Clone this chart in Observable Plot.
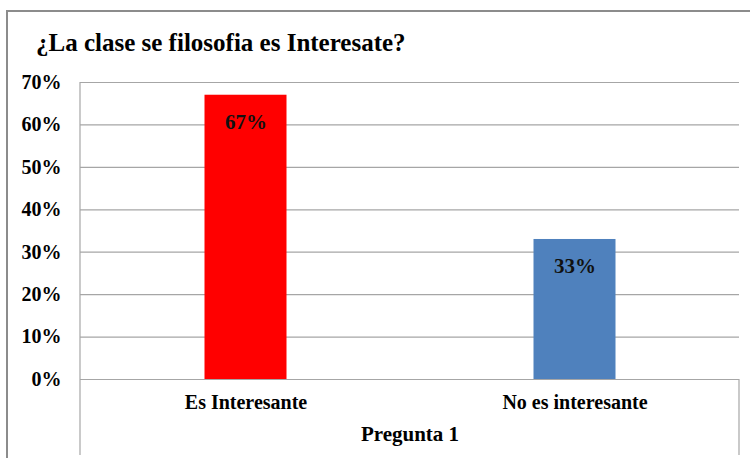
<!DOCTYPE html>
<html>
<head>
<meta charset="utf-8">
<script src="https://cdn.jsdelivr.net/npm/d3@7"></script>
<script src="https://cdn.jsdelivr.net/npm/@observablehq/plot@0.6"></script>
<style>
  html, body { margin: 0; padding: 0; background: #fff; }
  #wrap { position: relative; width: 750px; height: 458px; overflow: hidden; font-family: "Liberation Serif", "Times New Roman", serif; }
  #border { position: absolute; left: 6px; top: 10px; width: 800px; height: 500px; border-top: 2px solid #8c8c8c; border-left: 2px solid #8c8c8c; box-sizing: border-box; }
  #title { position: absolute; left: 36px; top: 29px; font-size: 25px; font-weight: bold; color: #000; white-space: nowrap; }
  #chart { position: absolute; left: 0; top: 0; }
</style>
</head>
<body>
<div id="wrap">
  <div id="border"></div>
  <div id="chart"></div>
  <div id="title">¿La clase se filosofia es Interesate?</div>
</div>
<script>
const categories = ["Es Interesante", "No es interesante"];
const values = [0.67, 0.33];
const colors = ["#FF0000", "#4F81BD"];
const valueLabels = ["67%", "33%"];
const yTicks = [0, 0.1, 0.2, 0.3, 0.4, 0.5, 0.6, 0.7];
const groupLabel = "Pregunta 1";

const data = categories.map((c, i) => ({cat: c, v: values[i], color: colors[i], label: valueLabels[i]}));

const font = '"Liberation Serif", "Times New Roman", serif';
const grid = "#a6a6a6";

const plot = Plot.plot({
  width: 750,
  height: 458,
  marginLeft: 80,
  marginRight: 11,
  marginTop: 82,
  marginBottom: 79,
  style: {fontFamily: font, background: "transparent", color: "#000"},
  x: {domain: categories, padding: 0},
  y: {domain: [0, 0.7]},
  marks: [
    Plot.ruleY(yTicks, {stroke: grid, strokeWidth: 1.2}),
    Plot.barY(data, {x: "cat", y: "v", fill: "color", insetLeft: 123.5, insetRight: 123.5}),
    Plot.text(data, {x: "cat", y: "v", text: "label", dy: 27, fontSize: 21, fontWeight: "bold", fill: "#111"}),
    Plot.axisY({ticks: yTicks, tickFormat: d => Math.round(d * 100) + "%", tickSize: 0, tickPadding: 19, fontSize: 20, fontWeight: "bold", label: null}),
    Plot.axisX({tickSize: 0, tickPadding: 15, fontSize: 20, fontWeight: "bold", label: null}),
    Plot.text([groupLabel], {frameAnchor: "bottom", dy: 61, fontSize: 21, fontWeight: "bold", fill: "#000"})
  ]
});

// category-axis boundary lines (extend below the axis like the grouped category axis)
const svg = d3.select(plot);
const ys = plot.scale("y");
const xLeft = 80, xRight = 750 - 11;
svg.append("line").attr("x1", xLeft).attr("x2", xLeft).attr("y1", ys.apply(0.7)).attr("y2", 455).attr("stroke", grid).attr("stroke-width", 1.2);
svg.append("line").attr("x1", xRight).attr("x2", xRight).attr("y1", ys.apply(0)).attr("y2", 455).attr("stroke", grid).attr("stroke-width", 1.2);

document.getElementById("chart").appendChild(plot);
</script>
</body>
</html>
